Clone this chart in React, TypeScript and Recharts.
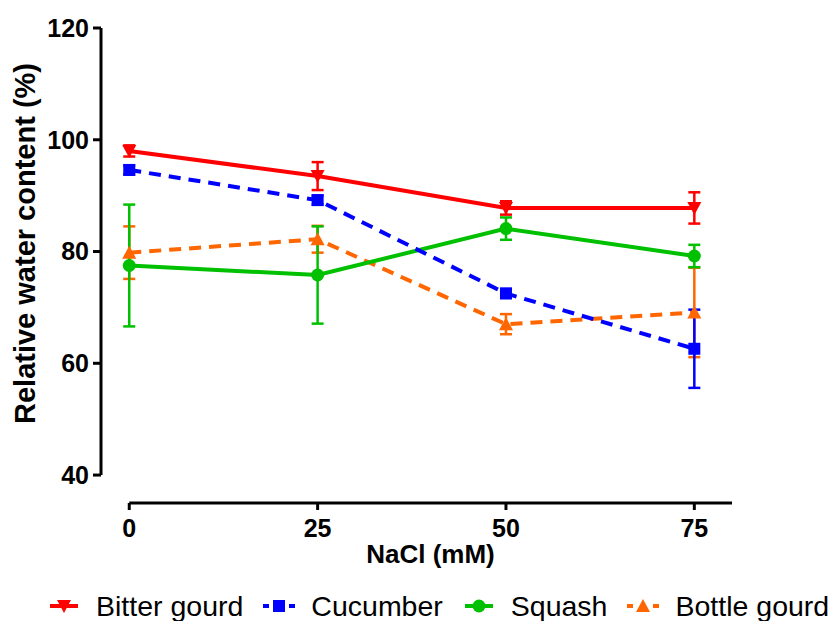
import React from 'react';
import { LineChart, Line, XAxis, YAxis, ErrorBar, ReferenceLine } from 'recharts';

const nacl = [0, 25, 50, 75];
const xTicks = [0, 25, 50, 75];
const yTicks = [40, 60, 80, 100, 120];

const bitterMean = [98.0, 93.5, 87.8, 87.8];
const bitterErr = [1.0, 2.5, 1.2, 2.8];
const cucumberMean = [94.6, 89.2, 72.5, 62.6];
const cucumberErr = [0.8, 0.8, 0.8, 7.0];
const squashMean = [77.5, 75.8, 84.1, 79.2];
const squashErr = [10.9, 8.7, 2.0, 2.0];
const bottleMean = [79.8, 82.2, 67.0, 69.1];
const bottleErr = [4.7, 2.4, 1.8, 8.0];

const X_MIN = -3.75;
const X_MAX = 80;
const Y_MIN = 35;
const Y_MAX = 120;

const toRows = (mean: number[], err: number[]) =>
  nacl.map((x, i) => ({ x, y: mean[i], err: err[i] }));

const RED = '#ff0000';
const BLUE = '#0000ff';
const GREEN = '#00c000';
const ORANGE = '#ff6600';

type Shape = 'triDown' | 'square' | 'circle' | 'triUp';

const Marker = ({ cx, cy, shape, color }: { cx: number; cy: number; shape: Shape; color: string }) => {
  if (shape === 'triDown')
    return <path d={`M${cx - 7},${cy - 6} L${cx + 7},${cy - 6} L${cx},${cy + 7} Z`} fill={color} />;
  if (shape === 'triUp')
    return <path d={`M${cx - 7},${cy + 6} L${cx + 7},${cy + 6} L${cx},${cy - 7} Z`} fill={color} />;
  if (shape === 'square') return <rect x={cx - 6} y={cy - 6} width={12} height={12} fill={color} />;
  return <circle cx={cx} cy={cy} r={6.5} fill={color} />;
};

const series = [
  { name: 'Bottle gourd', data: toRows(bottleMean, bottleErr), color: ORANGE, shape: 'triUp' as Shape, dash: '12 8' },
  { name: 'Squash', data: toRows(squashMean, squashErr), color: GREEN, shape: 'circle' as Shape, dash: undefined },
  { name: 'Cucumber', data: toRows(cucumberMean, cucumberErr), color: BLUE, shape: 'square' as Shape, dash: '12 8' },
  { name: 'Bitter gourd', data: toRows(bitterMean, bitterErr), color: RED, shape: 'triDown' as Shape, dash: undefined },
];

const legendOrder = ['Bitter gourd', 'Cucumber', 'Squash', 'Bottle gourd'];

const tickStyle = { fill: '#000', fontSize: 25, fontWeight: 700, fontFamily: 'Liberation Sans, Arial, sans-serif' };

const LegendRow = () => (
  <div
    style={{
      position: 'absolute',
      top: 591,
      left: 48,
      display: 'flex',
      alignItems: 'center',
      fontFamily: 'Liberation Sans, Arial, sans-serif',
      fontSize: 28.5,
      lineHeight: '30px',
      color: '#000',
      whiteSpace: 'nowrap',
    }}
  >
    {legendOrder.map((name) => {
      const s = series.find((d) => d.name === name)!;
      return (
        <div key={name} style={{ display: 'flex', alignItems: 'center', marginRight: 20 }}>
          <svg width={32} height={20} style={{ marginRight: 16 }}>
            {s.dash ? (
              <>
                <line x1={0} y1={10} x2={6} y2={10} stroke={s.color} strokeWidth={4} />
                <line x1={26} y1={10} x2={32} y2={10} stroke={s.color} strokeWidth={4} />
              </>
            ) : (
              <line x1={2} y1={10} x2={30} y2={10} stroke={s.color} strokeWidth={4} />
            )}
            <Marker cx={16} cy={10} shape={s.shape} color={s.color} />
          </svg>
          <span>{name}</span>
        </div>
      );
    })}
  </div>
);

export default function App() {
  return (
    <div style={{ position: 'absolute', top: 0, left: 0, width: 840, height: 621, background: '#fff', overflow: 'hidden' }}>
      <LineChart width={840} height={621} margin={{ top: 28, right: 108, bottom: 0, left: 0 }}>
        <XAxis
          type="number"
          dataKey="x"
          domain={[X_MIN, X_MAX]}
          ticks={xTicks}
          allowDuplicatedCategory={false}
          axisLine={false}
          tickLine={{ stroke: '#000', strokeWidth: 3 }}
          tickSize={7}
          tickMargin={9}
          height={118}
          tick={tickStyle}
          label={{
            content: ({ viewBox }: any) => (
              <text
                x={viewBox.x + viewBox.width / 2 + 14}
                y={viewBox.y + 60}
                textAnchor="middle"
                style={{ ...tickStyle, fontSize: 26 }}
              >
                NaCl (mM)
              </text>
            ),
          }}
        />
        <YAxis
          type="number"
          domain={[Y_MIN, Y_MAX]}
          ticks={yTicks}
          axisLine={false}
          tickLine={{ stroke: '#000', strokeWidth: 3 }}
          tickSize={8}
          tickMargin={4}
          width={101}
          tick={tickStyle}
          label={{
            content: ({ viewBox }: any) => {
              const x = viewBox.x + 35;
              const y = viewBox.y + viewBox.height / 2 - 22;
              return (
                <text
                  x={x}
                  y={y}
                  transform={`rotate(-90 ${x} ${y})`}
                  textAnchor="middle"
                  style={{ ...tickStyle, fontSize: 29 }}
                >
                  Relative water content (%)
                </text>
              );
            },
          }}
        />
        <ReferenceLine
          segment={[{ x: 0, y: Y_MIN }, { x: X_MAX, y: Y_MIN }]}
          stroke="#000"
          strokeWidth={3}
          ifOverflow="visible"
        />
        <ReferenceLine
          segment={[{ x: X_MIN, y: 40 }, { x: X_MIN, y: Y_MAX }]}
          stroke="#000"
          strokeWidth={3}
          ifOverflow="visible"
        />
        {series.map((s) => (
          <Line
            key={s.name}
            name={s.name}
            data={s.data}
            dataKey="y"
            type="linear"
            stroke={s.color}
            strokeWidth={4}
            strokeDasharray={s.dash}
            isAnimationActive={false}
            dot={(p: any) => <Marker key={`${s.name}-${p.index}`} cx={p.cx} cy={p.cy} shape={s.shape} color={s.color} />}
            activeDot={false}
          >
            <ErrorBar dataKey="err" direction="y" width={6} stroke={s.color} strokeWidth={2.5} />
          </Line>
        ))}
      </LineChart>
      <LegendRow />
    </div>
  );
}
